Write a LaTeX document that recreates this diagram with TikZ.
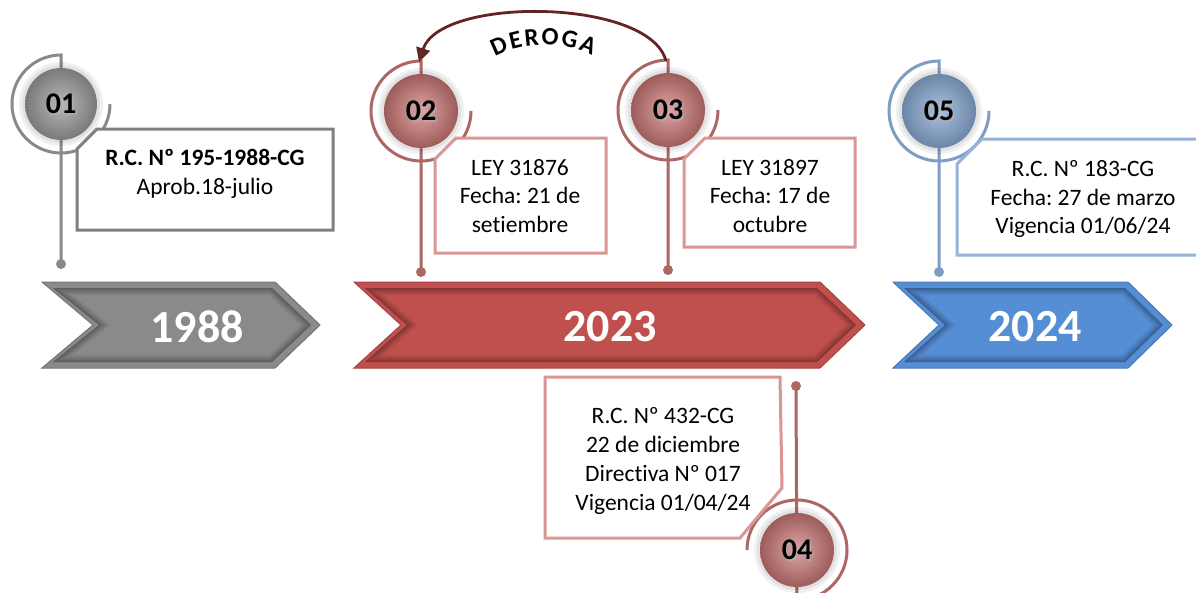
\documentclass[tikz,border=0pt]{standalone}
\usepackage{fontspec}
\setmainfont{Carlito}[Ligatures={NoCommon}]
\frenchspacing
\usetikzlibrary{arrows.meta,decorations.text}
\definecolor{gChev}{HTML}{8A8A8A}
\definecolor{gRing}{HTML}{8A8A8A}
\definecolor{gBox}{HTML}{808080}
\definecolor{rChev}{HTML}{C0504D}
\definecolor{rRing}{HTML}{AD6664}
\definecolor{rBox}{HTML}{D99694}
\definecolor{bChev}{HTML}{558ED5}
\definecolor{bRing}{HTML}{7F9DC4}
\definecolor{bBox}{HTML}{95B3D7}
\definecolor{arrowC}{HTML}{632523}
\tikzset{
  boxline/.style={line width=3pt, fill=white},
  boxtext/.style={align=center, font=\fontsize{23.5}{28.8}\selectfont, inner sep=0pt},
  numtext/.style={font=\fontsize{30}{30}\selectfont\bfseries, inner sep=0pt},
  yeartext/.style={font=\fontsize{46}{46}\selectfont\bfseries, text=white, inner sep=0pt},
  ringline/.style={line width=3pt},
  dotmark/.style={circle, inner sep=0pt, minimum size=10pt},
}
% chevron: #1 left x, #2 notch x, #3 right corner x, #4 tip x, #5 colour, #6 name
\newcommand{\mychev}[6]{%
  \fill[#5] (#1,282) -- (#3,282) -- (#4,325) -- (#3,368) -- (#1,368) -- (#2,325) -- cycle;
  \begin{scope}
    \clip (#1+11,288) -- (#3-3,288) -- (#4-9,325) -- (#3-3,362) -- (#1+11,362) -- (#2+6,325) -- cycle;
    \foreach \w in {14,10,7,4,2}{
      \draw[black, opacity=0.07, line width=\w pt] (#1+11,288) -- (#3-3,288) -- (#4-9,325) -- (#3-3,362) -- (#1+11,362) -- (#2+6,325) -- cycle;}
  \end{scope}
  \draw[#5!85!black, line width=1pt] (#1,282) -- (#3,282) -- (#4,325) -- (#3,368) -- (#1,368) -- (#2,325) -- cycle;
  \coordinate (#6) at ({(#2+#3)/2},325);
}
% bubble: #1 x, #2 y, #3 ring colour, #4 inner colour, #5 outer colour, #6 name, #7 label, #8 inner radius
\newcommand{\mybubble}[8]{%
  \fill[black, opacity=0.06] (#1,#2) circle (#8+6);
  \fill[black, opacity=0.06] (#1,#2) circle (#8+3);
  \shade[inner color=#4, outer color=#5] (#1,#2) circle (#8);
  \node[numtext, text=gray!60, opacity=0.7] at (#1+1.5,#2+1.5) {#7};
  \node[numtext] (#6) at (#1,#2) {#7};
}
\begin{document}
\begin{tikzpicture}[x=1pt,y=-1pt]
\useasboundingbox (0,0) rectangle (1196,592);
\fill[white] (0,0) rectangle (1196,592);

% chevrons
\mychev{42}{93}{275}{320}{gChev}{y1988}
\mychev{354}{401}{820}{865}{rChev}{y2023}
\mychev{893}{939}{1128}{1172}{bChev}{y2024}
\node[yeartext] (t1988) at (197,327) {1988};
\node[yeartext] (t2023) at (610,327) {2023};
\node[yeartext] (t2024) at (1035,327) {2024};

% ring + stems (top)
\draw[ringline, gRing] (110,104) arc[start angle=0, end angle=270, radius=49] -- (61,264);
\node[dotmark, fill=gRing] (d1) at (61,264) {};
\draw[ringline, rRing] (471,111) arc[start angle=0, end angle=270, radius=50] -- (421,272);
\node[dotmark, fill=rRing] (d2) at (421,272) {};
\draw[ringline, rRing] (718,110) arc[start angle=0, end angle=270, radius=50] -- (668,270);
\node[dotmark, fill=rRing] (d3) at (668,270) {};
\draw[ringline, bRing] (989,111) arc[start angle=0, end angle=270, radius=50] -- (939,272);
\node[dotmark, fill=bRing] (d5) at (939,272) {};
% bottom ring
\draw[ringline, rRing] (747,550) arc[start angle=180, end angle=450, radius=50] -- (796,386);
\node[dotmark, fill=rRing] (d4) at (796,386) {};

% bubbles
\mybubble{61}{104}{gRing}{gray!55}{gray!95!black}{c1}{01}{36}
\mybubble{421}{111}{rRing}{rBox!85!white}{rRing!90!black}{c2}{02}{37}
\mybubble{668}{110}{rRing}{rBox!85!white}{rRing!90!black}{c3}{03}{37}
\mybubble{939}{111}{bRing}{bBox!80!white}{bRing!85!black}{c5}{05}{37}
\mybubble{797}{550}{rRing}{rBox!85!white}{rRing!90!black}{c4}{04}{37}

% boxes
\draw[boxline, draw=gBox] (97,129) -- (333,129) -- (333,230) -- (77,230) -- (77,149) -- cycle;
\node[boxtext] (b1) at (205,174) {\textbf{R.C. Nº 195-1988-CG}\\Aprob.18-julio};
\draw[boxline, draw=rBox] (456,138) -- (606,138) -- (606,253) -- (435,253) -- (435,159) -- cycle;
\node[boxtext] (b2) at (520,196) {LEY 31876\\Fecha: 21 de\\setiembre};
\draw[boxline, draw=rBox] (705,138) -- (855,138) -- (855,247) -- (684,247) -- (684,159) -- cycle;
\node[boxtext] (b3) at (770,196) {LEY 31897\\Fecha: 17 de\\octubre};
\draw[boxline, draw=bBox] (982,139) -- (1210,139) -- (1210,255) -- (957,255) -- (957,164) -- cycle;
\node[boxtext] (b5) at (1083,199) {R.C. Nº 183-CG\\Fecha: 27 de marzo\\Vigencia 01/06/24};
\draw[boxline, draw=rBox] (545,377) -- (780,377) -- (782,488) -- (740,538) -- (545,538) -- cycle;
\node[boxtext] (b4) at (663,461) {R.C. Nº 432-CG\\22 de diciembre\\Directiva Nº 017\\Vigencia 01/04/24};

% DEROGA arrow
\coordinate (r3top) at (666,61);
\coordinate (r2top) at (419,62);
\draw[arrowC, line width=2.8pt, -{Triangle[length=14pt,width=14pt]}] (r3top) .. controls (650,-2) and (440,-4) .. (r2top);
\path[decorate, decoration={text along path, text align={fit to path},
   text format delimiters={|}{|},
   text={|\fontsize{25}{25}\selectfont\bfseries|DEROGA}}]
   (495,57) .. controls (520,42) and (565,41) .. (592,56);
\end{tikzpicture}
\end{document}
